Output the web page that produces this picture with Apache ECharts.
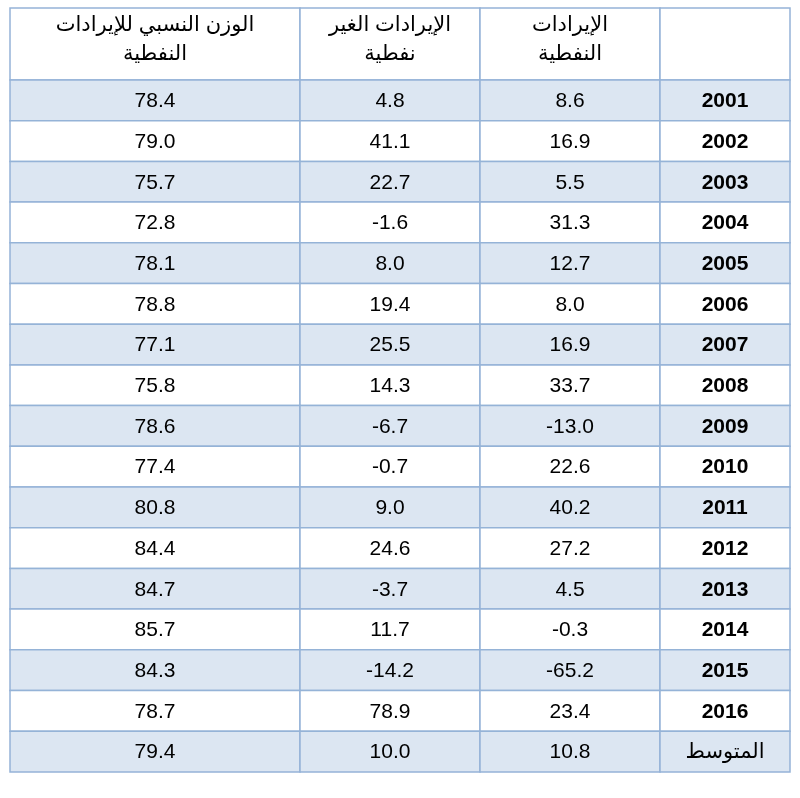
<!DOCTYPE html>
<html lang="ar">
<head>
<meta charset="UTF-8">
<title>الإيرادات</title>
<script src="https://cdn.jsdelivr.net/npm/echarts@6/dist/echarts.min.js"></script>
<style>html,body{margin:0;background:#fff}</style>
</head>
<body>
<div id="chart" style="width:800px;height:798px;"></div>
<script>
// data
var headers = ['الوزن النسبي للإيرادات\nالنفطية', 'الإيرادات الغير\nنفطية', 'الإيرادات\nالنفطية', ''];
var years = ['2001','2002','2003','2004','2005','2006','2007','2008','2009','2010','2011','2012','2013','2014','2015','2016','المتوسط'];
var oilRevenue = ['8.6','16.9','5.5','31.3','12.7','8.0','16.9','33.7','-13.0','22.6','40.2','27.2','4.5','-0.3','-65.2','23.4','10.8'];
var nonOilRevenue = ['4.8','41.1','22.7','-1.6','8.0','19.4','25.5','14.3','-6.7','-0.7','9.0','24.6','-3.7','11.7','-14.2','78.9','10.0'];
var oilWeight = ['78.4','79.0','75.7','72.8','78.1','78.8','77.1','75.8','78.6','77.4','80.8','84.4','84.7','85.7','84.3','78.7','79.4'];

// table layout (axis units = px)
var colEdges = [0, 290, 470, 650, 780];
var headerH = 72, rowH = 40.7;
var rowEdges = [0, headerH];
for (var i = 0; i < years.length; i++) rowEdges.push(headerH + rowH * (i + 1));

var cells = [];
headers.forEach(function (h, c) { cells.push([c, 0, h]); });
years.forEach(function (y, r) {
  cells.push([0, r + 1, oilWeight[r]]);
  cells.push([1, r + 1, nonOilRevenue[r]]);
  cells.push([2, r + 1, oilRevenue[r]]);
  cells.push([3, r + 1, y]);
});

var chart = echarts.init(document.getElementById('chart'));
chart.setOption({
  animation: false,
  grid: { left: 10, top: 8, width: 780, height: rowEdges[rowEdges.length - 1] },
  xAxis: { type: 'value', min: 0, max: 780, show: false },
  yAxis: { type: 'value', min: 0, max: rowEdges[rowEdges.length - 1], inverse: true, show: false },
  series: [{
    type: 'custom',
    data: cells,
    renderItem: function (params, api) {
      var c = api.value(0), r = api.value(1);
      var text = cells[params.dataIndex][2];
      var p0 = api.coord([colEdges[c], rowEdges[r]]);
      var p1 = api.coord([colEdges[c + 1], rowEdges[r + 1]]);
      var shaded = r > 0 && r % 2 === 1;
      var isHeader = r === 0;
      var isAvg = r === years.length;
      return {
        type: 'group',
        children: [{
          type: 'rect',
          shape: { x: p0[0], y: p0[1], width: p1[0] - p0[0], height: p1[1] - p0[1] },
          style: { fill: shaded ? '#dce6f2' : '#ffffff', stroke: '#95b3d7', lineWidth: 1.5 }
        }, {
          type: 'text',
          style: {
            text: text,
            x: (p0[0] + p1[0]) / 2,
            y: isHeader ? p0[1] + 3 : (p0[1] + p1[1]) / 2 + 1,
            align: 'center',
            verticalAlign: isHeader ? 'top' : 'middle',
            fontFamily: "'Liberation Sans', 'DejaVu Sans', sans-serif",
            fontSize: isHeader ? 21 : 21,
            lineHeight: isHeader ? 29 : 24,
            fontWeight: (c === 3 && !isAvg) ? 'bold' : 'normal',
            fill: '#000'
          }
        }]
      };
    }
  }]
});
</script>
</body>
</html>
